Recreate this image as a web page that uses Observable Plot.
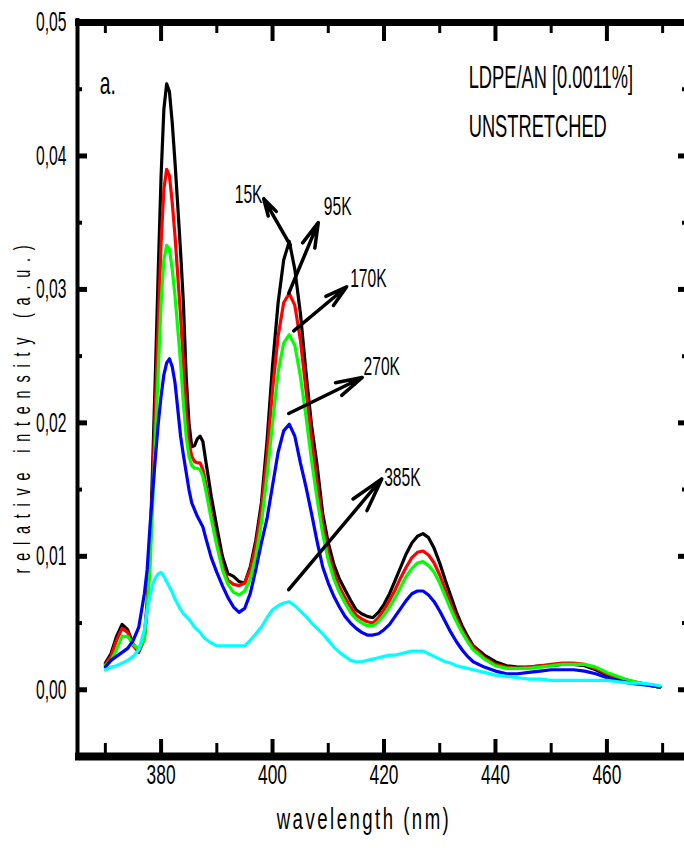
<!DOCTYPE html>
<html>
<head>
<meta charset="utf-8">
<script src="https://cdn.jsdelivr.net/npm/d3@7"></script>
<script src="https://cdn.jsdelivr.net/npm/@observablehq/plot@0.6"></script>
<style>
  html, body { margin: 0; padding: 0; background: #fff; overflow: hidden; }
  #chart svg { display: block; max-width: none; }
</style>
</head>
<body>
<div id="chart"></div>
<script>
// Emission spectra of LDPE/AN [0.0011%], unstretched film, at five temperatures.
const wavelength = [370,371,372,373,374,375,376,377,
  377.5,378,378.5,379,379.5,380,380.5,381,381.5,382,382.5,383,383.5,384,384.5,
  385,385.5,386,386.5,387,387.5,
  388,389,390,391,392,393,394,395,396,397,
  398,399,400,401,402,403,404,405,406,407,
  408,409,410,411,412,413,414,415,416,417,
  418,419,420,421,422,423,424,425,426,427,
  428,429,430,431,432,433,434,435,436,
  438,440,442,444,446,448,450,452,454,456,458,460,462,464,466,468,469.5];

const i15K = [0.0020,0.0027,0.0040,0.0049,0.0045,0.0034,0.0029,0.0040,
  0.0065,0.0105,0.0170,0.0240,0.0315,0.0385,0.0435,0.0454,0.0448,0.0425,0.0395,0.0362,0.0328,0.0290,0.0235,
  0.0200,0.0182,0.0183,0.0188,0.0190,0.0186,
  0.0172,0.0145,0.0122,0.0100,0.0087,0.0085,0.0081,0.0080,0.0092,0.0112,
  0.0140,0.0186,0.0243,0.0290,0.0322,0.0336,0.0315,0.0282,0.0238,0.0198,
  0.0168,0.0132,0.0110,0.0094,0.0083,0.0075,0.0067,0.0060,0.0057,0.0055,
  0.0054,0.0058,0.0064,0.0072,0.0082,0.0092,0.0102,0.0110,0.0115,0.0117,
  0.0114,0.0106,0.0095,0.0082,0.0070,0.0058,0.0048,0.0040,0.0033,
  0.0026,0.0021,0.0018,0.0017,0.0017,0.0018,0.0018,0.0019,0.0019,0.0018,0.0015,0.0011,0.0008,0.0006,0.0005,0.0003,0.0002];

const i95K = [0.0019,0.0025,0.0037,0.0046,0.0043,0.0033,0.0028,0.0038,
  0.0062,0.0098,0.0155,0.0215,0.0275,0.0335,0.0375,0.0390,0.0385,0.0365,0.0340,0.0310,0.0280,0.0245,0.0210,
  0.0185,0.0175,0.0171,0.0170,0.0170,0.0165,
  0.0155,0.0132,0.0112,0.0093,0.0082,0.0079,0.0078,0.0080,0.0090,0.0108,
  0.0135,0.0175,0.0225,0.0265,0.0290,0.0297,0.0288,0.0262,0.0225,0.0188,
  0.0155,0.0125,0.0103,0.0088,0.0077,0.0069,0.0062,0.0056,0.0053,0.0051,
  0.0050,0.0054,0.0060,0.0067,0.0075,0.0084,0.0092,0.0099,0.0103,0.0104,
  0.0101,0.0095,0.0086,0.0075,0.0064,0.0054,0.0045,0.0038,0.0032,
  0.0024,0.0019,0.0017,0.0016,0.0017,0.0018,0.0019,0.0020,0.0020,0.0019,0.0016,0.0012,0.0009,0.0007,0.0005,0.0003,0.0002];

const i170K = [0.0018,0.0022,0.0030,0.0040,0.0040,0.0034,0.0030,0.0038,
  0.0060,0.0092,0.0140,0.0190,0.0240,0.0290,0.0322,0.0333,0.0330,0.0315,0.0295,0.0270,0.0245,0.0215,0.0190,
  0.0175,0.0168,0.0166,0.0166,0.0165,0.0160,
  0.0150,0.0128,0.0108,0.0090,0.0079,0.0073,0.0071,0.0074,0.0083,0.0100,
  0.0125,0.0160,0.0200,0.0238,0.0260,0.0266,0.0258,0.0235,0.0205,0.0172,
  0.0143,0.0117,0.0097,0.0083,0.0073,0.0065,0.0058,0.0053,0.0050,0.0048,
  0.0048,0.0051,0.0056,0.0062,0.0069,0.0077,0.0085,0.0091,0.0095,0.0096,
  0.0093,0.0088,0.0080,0.0070,0.0060,0.0051,0.0043,0.0036,0.0030,
  0.0023,0.0018,0.0016,0.0016,0.0016,0.0017,0.0018,0.0019,0.0019,0.0019,0.0017,0.0013,0.0010,0.0007,0.0005,0.0003,0.0002];

const i270K = [0.0017,0.0022,0.0025,0.0028,0.0031,0.0037,0.0047,0.0072,
  0.0090,0.0122,0.0149,0.0175,0.0200,0.0220,0.0236,0.0245,0.0248,0.0242,0.0230,0.0210,0.0190,0.0176,0.0163,
  0.0150,0.0140,0.0135,0.0130,0.0126,0.0122,
  0.0114,0.0099,0.0088,0.0078,0.0069,0.0062,0.0058,0.0061,0.0072,0.0090,
  0.0110,0.0128,0.0153,0.0178,0.0194,0.0199,0.0190,0.0170,0.0152,0.0132,
  0.0111,0.0092,0.0080,0.0070,0.0062,0.0055,0.0050,0.0046,0.0043,0.0041,
  0.0041,0.0042,0.0045,0.0049,0.0055,0.0061,0.0067,0.0072,0.0074,0.0074,
  0.0071,0.0066,0.0059,0.0051,0.0043,0.0036,0.0030,0.0025,0.0021,
  0.0017,0.0014,0.0012,0.0012,0.0013,0.0014,0.0015,0.0015,0.0015,0.0014,0.0012,0.0009,0.0007,0.0005,0.0004,0.0003,0.0002];

const i385K = [0.0015,0.0017,0.0018,0.0020,0.0022,0.0025,0.0030,0.0045,
  0.0060,0.0070,0.0079,0.0084,0.0087,0.0088,0.0085,0.0081,0.0077,0.0073,0.0068,0.0064,0.0060,0.0057,0.0055,
  0.0053,0.0050,0.0047,0.0045,0.0043,0.0040,
  0.0038,0.0035,0.0033,0.0033,0.0033,0.0033,0.0033,0.0033,0.0037,0.0042,
  0.0047,0.0054,0.0060,0.0063,0.0065,0.0066,0.0063,0.0059,0.0055,0.0050,
  0.0046,0.0042,0.0037,0.0032,0.0028,0.0025,0.0022,0.0021,0.0021,0.0022,
  0.0023,0.0024,0.0025,0.0026,0.0026,0.0027,0.0028,0.0029,0.0029,0.0029,
  0.0027,0.0025,0.0023,0.0021,0.0020,0.0018,0.0017,0.0016,0.0015,
  0.0013,0.0011,0.0010,0.0009,0.0008,0.0008,0.0007,0.0007,0.0007,0.0007,0.0007,0.0007,0.0006,0.0005,0.0005,0.0004,0.0003];

const seriesNames = ["15K", "95K", "170K", "270K", "385K"];
const seriesColors = ["#000000", "#ff0000", "#00ff00", "#0000ff", "#00ffff"];
const seriesValues = [i15K, i95K, i170K, i270K, i385K];

// Arrow annotations: tail on the curve, head next to the temperature label
const arrowTailX = [403.2, 402.9, 403.8, 402.9, 402.9];
const arrowTailY = [0.0333, 0.0297, 0.0269, 0.0207, 0.0075];
const arrowHeadX = [398.4, 408.2, 413.3, 416.1, 419.6];
const arrowHeadY = [0.0368, 0.0350, 0.0302, 0.0234, 0.0158];
const labelX = [395.7, 411.7, 417.2, 419.6, 423.3];
const labelY = [0.0371, 0.0362, 0.0308, 0.0242, 0.0159];

// Axis ticks and labels
const xMajor = [380, 400, 420, 440, 460];
const xMinor = [370, 390, 410, 430, 450, 470];
const yMajor = [0, 0.01, 0.02, 0.03, 0.04];
const yMinor = [0.005, 0.015, 0.025, 0.035, 0.045];
const yLabels = [0, 0.01, 0.02, 0.03, 0.04, 0.05];

const sampleNote = ["LDPE/AN [0.0011%]", "UNSTRETCHED"];
const noteX = [435.2, 435.2];
const noteY = [0.0458, 0.0422];
const xTitle = "wavelength (nm)";
const yTitle = "relative intensity (a.u.)";

const W = 684, H = 848;
const mL = 77, mR = -6, mT = 22, mB = 92;
const plotW = W - mL - mR, plotH = H - mT - mB;

const rows = seriesNames.flatMap((name, s) =>
  wavelength.map((wl, i) => ({series: name, wl, v: seriesValues[s][i]})));

const arrows = seriesNames.map((name, i) => ({
  name, x1: arrowTailX[i], y1: arrowTailY[i], x2: arrowHeadX[i], y2: arrowHeadY[i], lx: labelX[i], ly: labelY[i]
}));

const fmt = d => d.toFixed(2).replace(".", ",");

const chart = Plot.plot({
  width: W, height: H,
  marginLeft: mL, marginRight: mR, marginTop: mT, marginBottom: mB,
  style: {fontFamily: "'Liberation Sans', Arial, sans-serif", background: "#fff", color: "#000", overflow: "hidden"},
  x: {domain: [365, 475], axis: null},
  y: {domain: [-0.005, 0.05], axis: null},
  color: {domain: seriesNames, range: seriesColors},
  marks: [
    // spectra
    Plot.line(rows, {x: "wl", y: "v", z: "series", stroke: "series", strokeWidth: 3.2, strokeLinejoin: "round"}),
    // arrows and labels
    Plot.arrow(arrows, {x1: "x1", y1: "y1", x2: "x2", y2: "y2", stroke: "#000", strokeWidth: 3.5, headLength: 15, headAngle: 30}),
    Plot.text(arrows, {x: "lx", y: "ly", text: "name", fontSize: 26, fill: "#000"}),
    Plot.text(["a."], {x: [369.0], y: [0.0454], textAnchor: "start", fontSize: 32, fill: "#000"}),
    Plot.text(sampleNote, {x: noteX, y: noteY, text: d => d, textAnchor: "start", fontSize: 31, fill: "#000"}),
    // frame
    Plot.ruleX([365], {strokeWidth: 4, insetTop: -4, insetBottom: -4}),
    Plot.ruleY([-0.005], {strokeWidth: 8, insetLeft: -2}),
    Plot.ruleY([0.05], {strokeWidth: 7, insetLeft: -2}),
    Plot.ruleX([475], {strokeWidth: 4}),
    // inward ticks, bottom and top
    Plot.tickX(xMajor, {x: d => d, insetTop: plotH - 17, strokeWidth: 4}),
    Plot.tickX(xMinor, {x: d => d, insetTop: plotH - 13, strokeWidth: 3}),
    Plot.tickX(xMajor, {x: d => d, insetBottom: plotH - 19, strokeWidth: 4}),
    Plot.tickX(xMinor, {x: d => d, insetBottom: plotH - 11, strokeWidth: 3}),
    // inward ticks, left and right
    Plot.tickY(yMajor, {y: d => d, insetRight: plotW - 10, strokeWidth: 5}),
    Plot.tickY(yMinor, {y: d => d, insetRight: plotW - 5, strokeWidth: 4}),
    Plot.tickY(yMajor, {y: d => d, insetLeft: plotW - 12, strokeWidth: 5}),
    Plot.tickY(yMinor, {y: d => d, insetLeft: plotW - 8, strokeWidth: 4}),
    // tick labels
    Plot.text(xMajor, {x: d => d, frameAnchor: "bottom", dy: 27, text: d => String(d), fontSize: 28, fill: "#000"}),
    Plot.text(yLabels, {y: d => d, frameAnchor: "left", dx: -11, textAnchor: "end", text: fmt, fontSize: 28, fill: "#000"}),
    // axis titles
    Plot.text([xTitle], {frameAnchor: "bottom", dx: -20, dy: 72, fontSize: 30, fill: "#000"}),
    Plot.text([yTitle], {frameAnchor: "left", textAnchor: "middle", dx: -55, dy: 16, rotate: -90, fontSize: 24, fill: "#000"})
  ]
});

// narrow glyphs: compress each label along its reading direction, around its anchor
const narrow = new Map();
xMajor.forEach(d => narrow.set(String(d), [0.62]));
yLabels.forEach(d => narrow.set(fmt(d), [0.56]));
sampleNote.forEach(d => narrow.set(d, [0.59]));
seriesNames.forEach(d => narrow.set(d, [0.6]));
narrow.set("a.", [0.6]);
narrow.set(xTitle, [0.62, "4px"]);
narrow.set(yTitle, [0.6, "13px"]);

chart.querySelectorAll("text").forEach(t => {
  const spec = narrow.get(t.textContent.trim());
  if (!spec) return;
  const tr = t.getAttribute("transform") || "";
  t.setAttribute("transform", `${tr} scale(${spec[0]},1)`);
  if (spec[1]) t.setAttribute("letter-spacing", spec[1]);
});

document.getElementById("chart").appendChild(chart);
</script>
</body>
</html>
